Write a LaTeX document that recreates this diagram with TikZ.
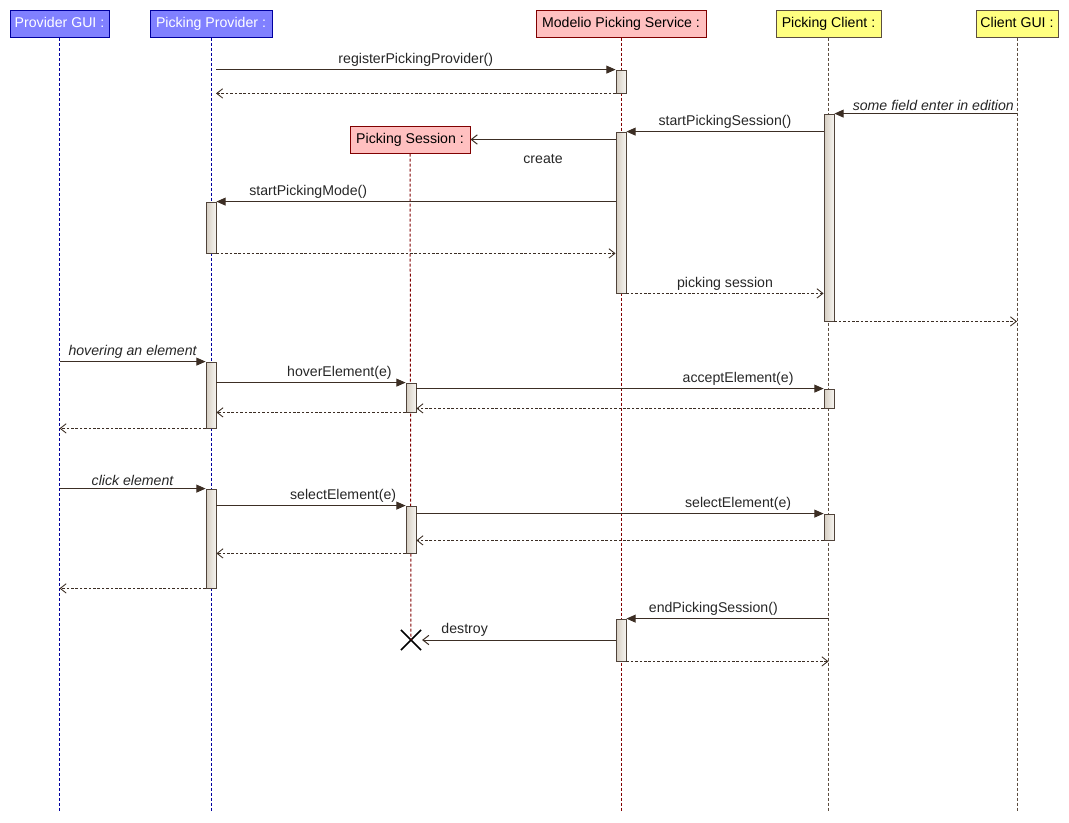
\documentclass[tikz,border=0pt]{standalone}
\usepackage{fontspec}
\setmainfont{Liberation Sans}
\usepackage{xcolor}
\usetikzlibrary{arrows.meta, positioning, fit, calc, shapes.misc}
\definecolor{hblue}{HTML}{8080FF}
\definecolor{hblueD}{HTML}{0000A0}
\definecolor{hred}{HTML}{FFC0C0}
\definecolor{hredD}{HTML}{800000}
\definecolor{hyel}{HTML}{FFFF80}
\definecolor{hyelD}{HTML}{5C4E40}
\definecolor{msgc}{HTML}{3C2E24}
\definecolor{actL}{HTML}{D6CEC2}
\definecolor{actR}{HTML}{F6F4F0}
\newcommand{\dfont}{\fontsize{10.6}{12.5}\selectfont}
\tikzset{
  %% lifeline head
  head/.style={
    rectangle, draw=#1, line width=0.75pt,
    minimum height=20.25pt, inner xsep=3pt,
    text height=7.6pt, text depth=2.2pt,
    font=\dfont
  },
  %% lifeline
  life/.style={draw=#1, line width=0.75pt,
               dash pattern=on 2.25pt off 1.5pt},
  %% activation bar
  act/.style={
    rectangle, draw=msgc!90, line width=0.6pt,
    left color=actL, right color=actR,
    inner sep=0pt
  },
  %% synchronous call
  call/.style={draw=msgc, line width=0.75pt,
               -{Triangle[length=7pt,width=6pt]}},
  %% reply
  ret/.style={draw=msgc, line width=0.65pt,
              dash pattern=on 2pt off 1.3pt,
              -{Straight Barb[length=4.5pt,width=7pt]}},
  %% create / destroy
  mk/.style={draw=msgc, line width=0.75pt,
             -{Straight Barb[length=4.5pt,width=7pt]}},
  %% message label
  lbl/.style={font=\dfont, text=black!85, inner sep=2pt},
}
\begin{document}
\begin{tikzpicture}[x=0.75pt, y=-0.75pt]
  \useasboundingbox (0,0) rectangle (1069,822);
  \coordinate (bottom) at (0,812);

  %% heads
  \node[head=hblueD, fill=hblue, text=white, minimum width=74.25pt]
       (pgui) at (59.5,23.5) {Provider GUI :};
  \node[head=hblueD, fill=hblue, text=white, minimum width=91.5pt]
       (pprov) at (211,23.5) {Picking Provider :};
  \node[head=hredD, fill=hred, minimum width=127.5pt]
       (svc) at (621,23.5) {Modelio Picking Service :};
  \node[head=hyelD, fill=hyel, minimum width=78.75pt]
       (pcli) at (828.5,23.5) {Picking Client :};
  \node[head=hyelD, fill=hyel, minimum width=61.5pt]
       (cgui) at (1017,23.5) {Client GUI :};
  \node[head=hredD, fill=hred, minimum width=90pt]
       (sess) at (410,139.5) {Picking Session :};

  \node[draw=black, line width=1.1pt, cross out, minimum size=14pt,
        inner sep=0pt] (kill) at (411,640) {};

  %% lifelines
  \draw[life=hblueD] (pgui.south) -- (pgui.south |- bottom);
  \draw[life=hblueD] (pprov.south) -- (pprov.south |- bottom);
  \draw[life=hredD] (svc.south) -- (svc.south |- bottom);
  \draw[life=hyelD] (pcli.south) -- (pcli.south |- bottom);
  \draw[life=hyelD] (cgui.south) -- (cgui.south |- bottom);
  \draw[life=hredD] (sess.south) -- (kill.center);

  %% activation bars
  \node[act, fit={(616,70)(626,93)}] (sv1) {};
  \node[act, fit={(616,132)(626,293)}] (sv2) {};
  \node[act, fit={(824,114)(834,321)}] (cl1) {};
  \node[act, fit={(206,202)(216,253)}] (pv1) {};
  \node[act, fit={(206,362)(216,428)}] (pv2) {};
  \node[act, fit={(406,383)(416,412)}] (ss1) {};
  \node[act, fit={(824,389)(834,408)}] (cl2) {};
  \node[act, fit={(206,489)(216,588)}] (pv3) {};
  \node[act, fit={(406,506)(416,553)}] (ss2) {};
  \node[act, fit={(824,514)(834,540)}] (cl3) {};
  \node[act, fit={(616,619)(626,661)}] (sv3) {};

  %% registration
  \draw[call] ($(pprov |- sv1.north)+(5,0)$) -- (sv1.north west)
    node[lbl, midway, above] {registerPickingProvider()};
  \draw[ret] (sv1.south west) -- ($(pprov |- sv1.south)+(5,0)$);

  %% session start
  \draw[call] (cgui |- cl1.north) -- (cl1.north east)
    node[lbl, pos=0, above left, font=\dfont\itshape]
    {some field enter in edition};
  \draw[call] (cl1.west |- sv2.north) -- (sv2.north east)
    node[lbl, midway, above] {startPickingSession()};
  \draw[mk] (sv2.west |- sess.east) -- (sess.east)
    node[lbl, midway, below=9pt] {create};
  \draw[call] (sv2.west |- pv1.north) -- (pv1.north east)
    node[lbl, pos=0.77, above] {startPickingMode()};
  \draw[ret] (pv1.south east) -- (sv2.west |- pv1.south);
  \draw[ret] (sv2.south east) -- (sv2.south -| cl1.west)
    node[lbl, midway, above] {picking session};
  \draw[ret] (cl1.south east) -- (cl1.south -| cgui);

  %% hovering
  \draw[call] (pgui |- pv2.north) -- (pv2.north west)
    node[lbl, midway, above, font=\dfont\itshape]
    {hovering an element};
  \draw[call] (pv2.east |- ss1.north) -- (ss1.north west)
    node[lbl, pos=0.65, above] {hoverElement(e)};
  \draw[call] (ss1.east |- cl2.north) -- (cl2.north west)
    node[lbl, pos=0.79, above] {acceptElement(e)};
  \draw[ret] (cl2.south west) -- (cl2.south -| ss1.east);
  \draw[ret] (ss1.south west) -- (ss1.south -| pv2.east);
  \draw[ret] (pv2.south west) -- (pv2.south -| pgui);

  %% selection
  \draw[call] (pgui |- pv3.north) -- (pv3.north west)
    node[lbl, midway, above, font=\dfont\itshape]
    {click element};
  \draw[call] (pv3.east |- ss2.north) -- (ss2.north west)
    node[lbl, pos=0.67, above] {selectElement(e)};
  \draw[call] (ss2.east |- cl3.north) -- (cl3.north west)
    node[lbl, pos=0.79, above] {selectElement(e)};
  \draw[ret] (cl3.south west) -- (cl3.south -| ss2.east);
  \draw[ret] (ss2.south west) -- (ss2.south -| pv3.east);
  \draw[ret] (pv3.south west) -- (pv3.south -| pgui);

  %% session end
  \draw[call] (pcli |- sv3.north) -- (sv3.north east)
    node[lbl, pos=0.57, above] {endPickingSession()};
  \draw[mk] (sv3.west) -- ($(kill.east)+(1,0)$)
    node[lbl, pos=0.78, above] {destroy};
  \draw[ret] (sv3.south east) -- (sv3.south -| pcli);

\end{tikzpicture}
\end{document}
